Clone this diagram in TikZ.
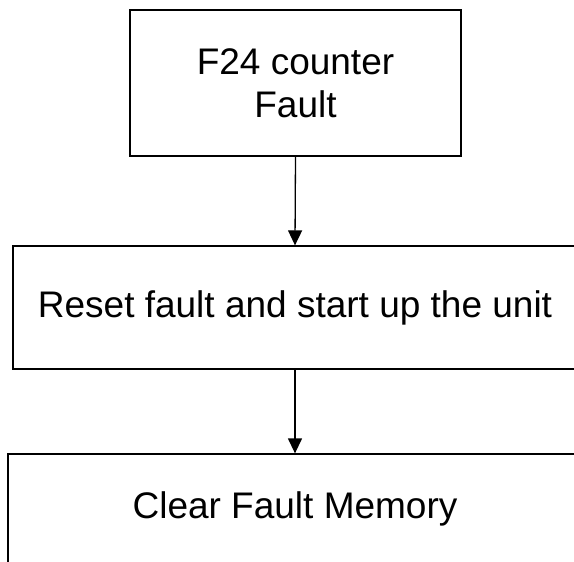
\documentclass[tikz,border=0pt]{standalone}
\usepackage{fontspec}
\setmainfont{Liberation Sans}
\usetikzlibrary{arrows.meta}

\begin{document}
\begin{tikzpicture}[x=1pt, y=-1pt,
	box/.style={draw, line width=1.3pt, inner sep=0pt, align=center, font=\fontsize{37}{43}\selectfont},
	flow/.style={line width=1.3pt, -{Triangle[width=14pt, length=15pt]}}]
			%%%%% START %%%%%
			
			\useasboundingbox (0, 0) rectangle (574, 562);
			
			\node[box, minimum width=331, minimum height=146] (fault) at (295.5, 83) {F24 counter\\Fault};
			\node[box, minimum width=564, minimum height=123] (reset) at (295, 307.5) {Reset fault and start up the unit};
			\node[box, minimum width=574, minimum height=110] (clear) at (295, 509) {Clear Fault Memory};
			
			\draw[flow] (fault.south) -- (reset.north);
			\draw[flow] (reset.south) -- (clear.north);
			
			%%%%% END %%%%%
		\end{tikzpicture}
\end{document}
